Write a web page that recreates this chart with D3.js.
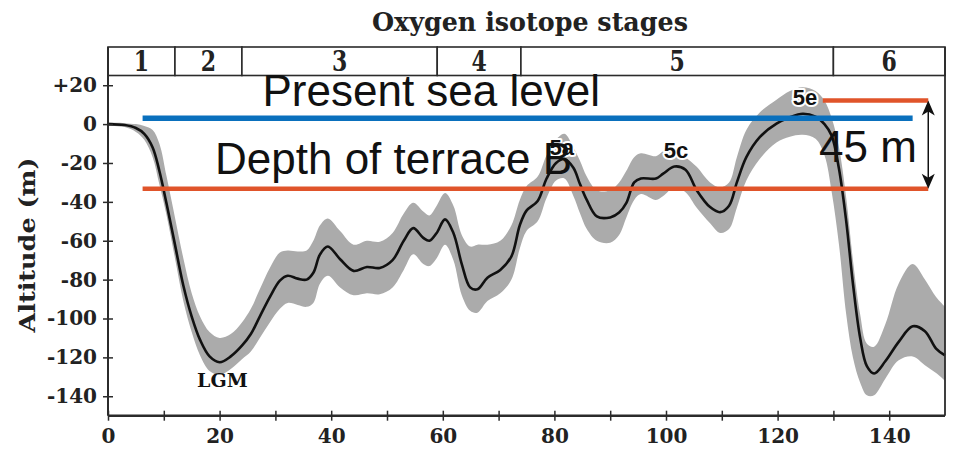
<!DOCTYPE html>
<html><head><meta charset="utf-8">
<script src="https://cdn.jsdelivr.net/npm/d3@7"></script>
<style>html,body{margin:0;padding:0;background:#fff;}svg{display:block;}</style>
</head><body>
<script>
// ---- data ----
const ages = [0,3,5,6.5,8,9.2,10.5,12,13.5,15,16.5,18.2,20,22,24,25.6,27.2,29,30.8,32.2,34,35.6,36.8,38,39.4,41.6,44,46.4,48.7,51,53,54.7,56.5,57.6,58.9,60.4,61.9,63.4,64.9,66.2,68,70.3,72.3,73.8,75,77,78.6,80.3,81.8,83.4,84.6,85.8,87.6,90,91.6,92.9,94.3,95.5,98.2,99.5,101.5,103.5,105.5,107.9,109.7,111.3,112.7,114.4,116.8,119.8,122.2,124.5,126.8,128.4,129.7,131,132.3,133.5,134.8,136,137.3,139.3,141.7,144.2,146.4,148.4,150];
const meanLevel = [0,-0.5,-2,-5,-12,-24,-41,-62,-83,-99,-111,-119.5,-122.5,-119.5,-114,-108,-99,-89,-80.5,-78,-79.5,-80,-76.5,-67,-63,-69.5,-75.5,-73.5,-74,-70,-60,-53.5,-58.5,-60,-56,-49,-56,-72,-84,-85,-79,-75,-68,-52,-44.5,-39.5,-28,-20,-18,-22.5,-31,-39,-47.5,-48,-45.5,-40.5,-30,-28,-28,-25.5,-21.8,-23.5,-34,-42.7,-45.3,-42,-30,-17,-6.7,0.2,3.5,5.3,3.8,0,-6,-23,-50,-82,-110,-124.5,-128.3,-122,-112,-104,-106.5,-115.5,-119];
const upperLevel = [0.8,0.5,0,-1,-3,-10,-27,-48,-69,-87,-99,-107,-110,-108,-102,-95,-85,-74,-66,-65,-65.5,-65,-60,-52,-48.5,-55,-62,-60,-60.5,-56,-46,-40.5,-45,-47,-42,-35.5,-42,-57,-63,-62,-62,-60,-52,-39,-32,-27,-16,-8,-5,-12,-19,-27,-34,-34,-30,-24,-17,-15,-16.5,-14,-12.5,-17,-22,-30,-32.5,-30,-17,-3,6,12.5,17,19,17,12,3,-12,-38,-70,-98,-113,-114.5,-103,-82,-72,-80,-89,-94];
const lowerLevel = [-0.8,-1.5,-4,-8,-17,-31,-47,-69,-91,-107,-119,-127,-129,-126,-121,-117,-110,-102,-95,-92,-93,-94,-92,-82,-78,-84,-88,-87,-87.5,-84,-75,-67,-72,-73,-69,-62,-70,-88,-96,-97,-91,-87,-80,-64,-55,-50,-38,-29,-28,-37,-46,-54,-60,-61,-57,-48,-39,-36,-39,-37,-32.5,-35,-43,-51,-56,-54,-43,-29,-18,-9.5,-6.5,-5.5,-7.5,-16,-35,-62,-98,-120,-133,-139.5,-139.5,-131,-121.5,-119.5,-124,-128,-132];

const stageNames = ["1","2","3","4","5","6"];
const stageBounds = [0,12,24,59,74,130,150];

const xTicks = [0,10,20,30,40,50,60,70,80,90,100,110,120,130,140];
const xTickLabels = [0,20,40,60,80,100,120,140];
const yTicks = [20,0,-20,-40,-60,-80,-100,-120,-140];

const peakLabels = ["LGM","5a","5c","5e"];
const peakAges = [20.5,81.3,101.8,124.9];
const peakLevels = [-135,-16,-17.5,9.8];

const seaLevelLine = {v:3, from:6.2, to:144.2};
const terraceLine = {v:-33.3, from:6.2, to:147};
const topLine = {v:12.1, from:128.1, to:147};
const arrowAge = 147;

// ---- layout ----
const W = 955, H = 449;
const x = d3.scaleLinear().domain([0,150]).range([108,945]);
const y = d3.scaleLinear().domain([-150,25]).range([415.7,75.5]);
const stageTop = 47;

const svg = d3.select("body").append("svg").attr("width",W).attr("height",H);
const serif = "'DejaVu Serif', serif";
const sans = "'Liberation Sans', Arial, sans-serif";
const ink = "#2b2b2b";

// title
svg.append("text").attr("x",530).attr("y",30.5).attr("text-anchor","middle")
  .attr("font-family",serif).attr("font-weight","bold").attr("font-size",26)
  .attr("fill","#222").attr("textLength",316).attr("lengthAdjust","spacingAndGlyphs").text("Oxygen isotope stages");

// stage bar
const sg = svg.append("g");
stageNames.forEach((n,i)=>{
  const x0 = x(stageBounds[i]), x1 = x(stageBounds[i+1]);
  sg.append("rect").attr("x",x0).attr("y",stageTop).attr("width",x1-x0).attr("height",y(25)-stageTop)
    .attr("fill","#fff").attr("stroke",ink).attr("stroke-width",1.6);
  sg.append("text").attr("transform",`translate(${(x0+x1)/2},71) scale(1,1.3)`).attr("text-anchor","middle")
    .attr("font-family",serif).attr("font-weight","bold").attr("font-size",22).attr("fill","#222").text(n);
});

// band & line
const band = d3.area().x((d,i)=>x(ages[i])).y0((d,i)=>y(lowerLevel[i])).y1((d,i)=>y(upperLevel[i]))
  .curve(d3.curveCatmullRom.alpha(0.5));
svg.append("path").datum(ages).attr("d",band).attr("fill","#ababab");
const line = d3.line().x((d,i)=>x(ages[i])).y((d,i)=>y(meanLevel[i])).curve(d3.curveCatmullRom.alpha(0.5));
svg.append("path").datum(ages).attr("d",line).attr("fill","none").attr("stroke","#111").attr("stroke-width",2.6);

// frame
svg.append("line").attr("x1",x(0)).attr("x2",x(0)).attr("y1",stageTop).attr("y2",y(-150)).attr("stroke",ink).attr("stroke-width",2);
svg.append("line").attr("x1",x(150)).attr("x2",x(150)).attr("y1",stageTop).attr("y2",y(-150)).attr("stroke",ink).attr("stroke-width",1.8);
svg.append("line").attr("x1",x(0)).attr("x2",x(150)).attr("y1",y(-150)).attr("y2",y(-150)).attr("stroke",ink).attr("stroke-width",2.4);

// axes
const yAxis = d3.axisLeft(y).tickValues(yTicks).tickSize(5).tickPadding(6)
  .tickFormat(d => d>0 ? "+"+d : String(d));
const gy = svg.append("g").attr("transform",`translate(${x(0)},0)`).call(yAxis);
gy.select(".domain").remove();
gy.selectAll(".tick line").attr("x1",-5).attr("x2",5).attr("stroke",ink).attr("stroke-width",1.5);
gy.selectAll(".tick text").attr("font-family",serif).attr("font-weight","bold").attr("font-size",20).attr("fill","#222").attr("x",-11);

const xAxis = d3.axisBottom(x).tickValues(xTicks).tickSize(5).tickFormat(d => xTickLabels.includes(d) ? String(d) : "");
const gx = svg.append("g").attr("transform",`translate(0,${y(-150)})`).call(xAxis);
gx.select(".domain").remove();
gx.selectAll(".tick line").attr("y1",-5).attr("y2",5).attr("stroke",ink).attr("stroke-width",1.5);
gx.selectAll(".tick text").attr("font-family",serif).attr("font-weight","bold").attr("font-size",20).attr("fill","#222").attr("y",13);

// y label
svg.append("text").attr("transform","translate(35,245) rotate(-90)").attr("text-anchor","middle")
  .attr("font-family",serif).attr("font-weight","bold").attr("font-size",23).attr("fill","#222")
  .attr("textLength",175).attr("lengthAdjust","spacingAndGlyphs").text("Altitude (m)");

// peak labels
peakLabels.forEach((t,i)=>{
  const isLGM = t==="LGM";
  svg.append("text").attr("x",x(peakAges[i])).attr("y",y(peakLevels[i])).attr("text-anchor","middle")
    .attr("font-family", isLGM ? serif : sans).attr("font-weight","bold").attr("font-size", isLGM?19:22)
    .attr("fill","#111").attr("stroke", isLGM?"none":"#fff").attr("stroke-width",4).attr("stroke-linejoin","round")
    .attr("paint-order","stroke").text(t);
});

// overlay lines
svg.append("line").attr("x1",x(seaLevelLine.from)).attr("x2",x(seaLevelLine.to)).attr("y1",y(seaLevelLine.v)).attr("y2",y(seaLevelLine.v))
  .attr("stroke","#0a70bd").attr("stroke-width",5.5);
[terraceLine, topLine].forEach(l=>{
  svg.append("line").attr("x1",x(l.from)).attr("x2",x(l.to)).attr("y1",y(l.v)).attr("y2",y(l.v))
    .attr("stroke","#e0542a").attr("stroke-width",4.5);
});
// arrow
const ax = x(arrowAge), ay0 = y(topLine.v), ay1 = y(terraceLine.v);
svg.append("line").attr("x1",ax).attr("x2",ax).attr("y1",ay0+8).attr("y2",ay1-8).attr("stroke","#111").attr("stroke-width",1.5);
svg.append("path").attr("d",`M${ax},${ay0} L${ax-6.5},${ay0+15} L${ax},${ay0+11} L${ax+6.5},${ay0+15} Z`).attr("fill","#111");
svg.append("path").attr("d",`M${ax},${ay1} L${ax-6.5},${ay1-15} L${ax},${ay1-11} L${ax+6.5},${ay1-15} Z`).attr("fill","#111");

// annotations
svg.append("text").attr("x",262.5).attr("y",106).attr("font-family",sans).attr("font-size",44).attr("fill","#111").text("Present sea level");
svg.append("text").attr("x",215).attr("y",173.5).attr("font-family",sans).attr("font-size",44).attr("fill","#111").text("Depth of terrace B");
svg.append("text").attr("x",819).attr("y",162).attr("font-family",sans).attr("font-size",44).attr("fill","#111").text("45 m");
</script>
</body></html>
